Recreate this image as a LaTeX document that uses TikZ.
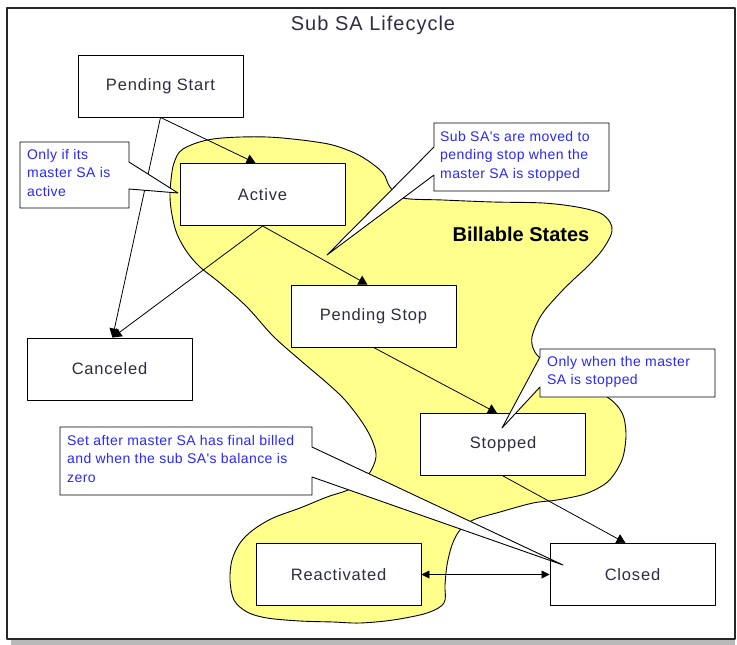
\documentclass[tikz,border=0pt]{standalone}
\usepackage{fontspec}
\setmainfont{Liberation Sans}
\newfontfamily\spacedfont[LetterSpace=5]{Liberation Sans}
\newfontfamily\notefont[LetterSpace=3]{Liberation Sans}
\usetikzlibrary{arrows.meta,calc}
\definecolor{blobyellow}{RGB}{255,255,140}
\definecolor{noteblue}{RGB}{40,40,255}
\definecolor{statetext}{RGB}{45,45,65}
\begin{document}
\begin{tikzpicture}[x=1pt,y=-1pt,line join=round,
  statebox/.style={draw=black,fill=white,line width=0.9pt,minimum width=165pt,minimum height=62pt,inner sep=0pt,font=\spacedfont\fontsize{16.5}{19}\selectfont,text=statetext},
  flow/.style={draw=black,line width=0.8pt,-{Triangle[length=9pt,width=10pt]}},
  calloutshape/.style={draw=black,fill=white,line width=0.9pt},
  notetext/.style={anchor=north west,align=left,inner sep=0pt,text=noteblue,font=\notefont\fontsize{14}{18.5}\selectfont}]
\useasboundingbox (0,0) rectangle (737,645);
% frame with shadow
\fill[gray!55] (11,13) rectangle (735,645);
\draw[fill=white,line width=1.3pt,draw=black!85] (7,8) rectangle (735,639);
\node[font=\spacedfont\fontsize{20}{24}\selectfont,text=statetext] (title) at (373,25) {Sub SA Lifecycle};
% billable states region
\draw[fill=blobyellow,line width=0.9pt] plot[smooth cycle,tension=0.55] coordinates {
(183,149) (213,139) (267,137) (323,143) (350,151) (367,160) (383,173) (390,187) (403,198)
(443,200) (493,202) (543,203) (577,207) (600,213) (610,222) (612,231) (608,241) (600,253) (587,267) (573,280) (560,293)
(545,310) (537,323) (532,337) (533,348) (540,358) (565,378) (598,392) (610,399) (619,408) (624,418) (626,433) (625,447)
(622,460) (615,473) (605,484) (585,494) (557,500) (533,503) (500,512) (473,520) (460,530) (452,545) (447,565) (445,585) (444,603)
(427,613) (393,620) (360,623) (333,622) (300,621) (267,618) (247,612) (234,600) (230,580) (232,560) (240,543) (253,530)
(273,518) (300,508) (327,497) (350,489) (368,475) (376,457) (372,440) (362,422) (345,400) (327,383) (300,360) (273,336)
(247,307) (220,283) (200,267) (187,252) (177,234) (172,215) (170,197) (171,180) (174,163)};
\node[font=\bfseries\fontsize{20}{24}\selectfont,text=black] (billable) at (521,234) {Billable States};
% states
\node[statebox] (ps) at (160.5,86) {Pending Start};
\node[statebox] (active) at (262.5,194.5) {Active};
\node[statebox] (pstop) at (373.5,316) {Pending Stop};
\node[statebox] (canceled) at (109.5,369) {Canceled};
\node[statebox] (stopped) at (503,444.5) {Stopped};
\node[statebox] (react) at (338.5,574.5) {Reactivated};
\node[statebox] (closed) at (632.5,574.5) {Closed};
% transitions
\draw[flow] (ps.south) -- ([xshift=-7pt]active.north);
\draw[flow] (ps.south) -- ([xshift=3pt]canceled.north);
\draw[flow] (active.south) -- ([xshift=3pt]canceled.north);
\draw[flow] (active.south) -- ([xshift=-6pt]pstop.north);
\draw[flow] (pstop.south) -- ([xshift=-6pt]stopped.north);
\draw[flow] (stopped.south) -- ([xshift=-7pt]closed.north);
\draw[draw=black,line width=0.8pt,{Triangle[length=8pt,width=8pt]}-{Triangle[length=8pt,width=8pt]}] (react.east) -- (closed.west);
% callouts
\coordinate (tip1) at (178,193);
\coordinate (tip2) at (327,255);
\coordinate (tip3) at (502,428);
\coordinate (tip4) at (563,565);
\draw[calloutshape] (20,142) -- (129,142) -- (129,162) -- (tip1) -- (129,189) -- (129,208) -- (20,208) -- cycle;
\node[notetext] (note1) at (27,149) {Only if its\\master SA is\\active};
\draw[calloutshape] (434,123) -- (609,123) -- (609,191) -- (434,191) -- (434,175) -- (tip2) -- (434,147) -- cycle;
\node[notetext] (note2) at (440,131) {Sub SA's are moved to\\pending stop when the\\master SA is stopped};
\draw[calloutshape] (540,349) -- (715,349) -- (715,397) -- (540,397) -- (540,387) -- (tip3) -- (540,357) -- cycle;
\node[notetext] (note3) at (547,356) {Only when the master\\SA is stopped};
\draw[calloutshape] (60,427) -- (312,427) -- (312,447) -- (tip4) -- (312,477) -- (312,495) -- (60,495) -- cycle;
\node[notetext] (note4) at (67,435) {Set after master SA has final billed\\and when the sub SA's balance is\\zero};
\end{tikzpicture}
\end{document}
